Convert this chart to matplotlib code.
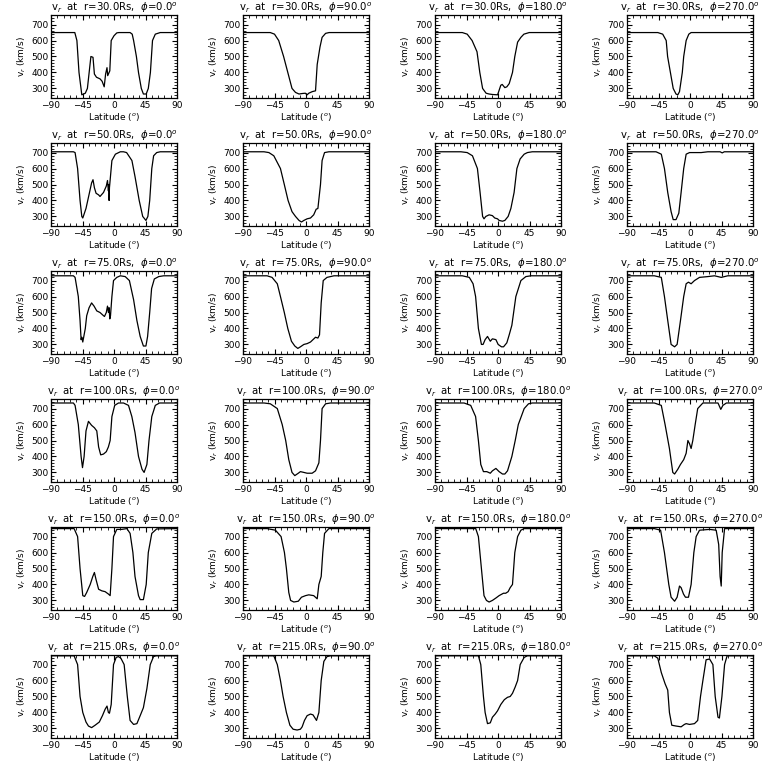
import numpy as np
import matplotlib
matplotlib.use("Agg")
import matplotlib.pyplot as plt
from matplotlib.ticker import MultipleLocator

# =========================
# DATA (lat in deg, v_r in km/s)
# =========================

radii = [30.0, 50.0, 75.0, 100.0, 150.0, 215.0]
phis = [0.0, 90.0, 180.0, 270.0]

# r = 30 Rs
lat_r30_p0 = [-90, -56, -53, -50, -46, -41, -38, -33, -30, -28, -25, -20, -17, -14, -12, -10, -9, -6, -4, 0, 4, 7, 23, 26, 28, 32, 35, 39, 42, 46, 49, 52, 55, 59, 66, 90]
vr_r30_p0 = [650, 650, 600, 400, 260, 270, 300, 500, 495, 390, 370, 360, 345, 310, 390, 430, 380, 410, 600, 630, 648, 650, 650, 640, 600, 500, 400, 300, 265, 265, 300, 400, 600, 640, 650, 650]
lat_r30_p90 = [-90, -51, -45, -39, -32, -29, -26, -20, -15, -10, -5.5, -1, 1.6, 4, 9, 13.6, 16, 20, 23, 28, 33, 90]
vr_r30_p90 = [650, 650, 640, 600, 500, 450, 400, 300, 275, 265, 268, 270, 260, 270, 280, 285, 450, 560, 620, 645, 650, 650]
lat_r30_p180 = [-90, -51, -44, -37, -30, -26, -22, -17, -12.7, -8, -0.7, 0.2, 4, 6, 9.8, 12.6, 16, 20.7, 24, 28, 32.7, 37, 44.6, 90]
vr_r30_p180 = [650, 650, 640, 600, 530, 400, 300, 270, 265, 262, 260, 270, 320, 325, 305, 310, 330, 400, 500, 590, 620, 640, 650, 650]
lat_r30_p270 = [-90, -46, -39, -34, -32, -28, -24, -20, -17.4, -15, -11, -9, -5.5, -1.7, 1.6, 90]
vr_r30_p270 = [650, 650, 640, 600, 500, 400, 300, 265, 260, 280, 400, 500, 600, 640, 650, 650]

# r = 50 Rs
lat_r50_p0 = [-90, -58, -55.6, -52, -48.5, -46, -44.6, -40, -35, -32, -30, -28, -25.6, -22, -20, -15, -11, -9.3, -8, -7.3, -7, -6.5, -3, 2, 9, 13.6, 18, 25.6, 30, 36, 41, 45.6, 48.4, 51, 54, 56.6, 61, 66, 90]
vr_r50_p0 = [705, 705, 700, 600, 400, 300, 290, 350, 450, 510, 530, 480, 445, 435, 425, 450, 490, 525, 460, 500, 400, 480, 650, 690, 705, 705, 700, 650, 550, 400, 300, 275, 300, 400, 600, 680, 700, 705, 705]
lat_r50_p90 = [-90, -60, -53, -46, -36.5, -31, -25.6, -20, -15, -10, -6.5, -3, 1.6, 6.4, 11, 14.5, 17, 20.7, 23, 26.5, 32.7, 90]
vr_r50_p90 = [705, 705, 700, 680, 600, 500, 400, 330, 300, 275, 265, 275, 285, 290, 310, 345, 350, 500, 650, 700, 705, 705]
lat_r50_p180 = [-90, -53, -44, -36.5, -29.4, -25.6, -22, -20, -17.4, -12.7, -8, -4.6, -0.7, 1.6, 6.4, 9.8, 14.5, 18.4, 23, 27, 31.6, 37.4, 42, 49, 90]
vr_r50_p180 = [705, 705, 700, 680, 600, 450, 300, 285, 300, 310, 305, 290, 285, 275, 270, 275, 300, 350, 450, 600, 660, 690, 700, 705, 705]
lat_r50_p270 = [-90, -48.5, -41, -36.5, -31.8, -27, -24, -20, -16, -12.7, -9, -5.5, -0.7, 16, 25.5, 43, 46, 49, 90]
vr_r50_p270 = [705, 705, 690, 600, 450, 330, 280, 280, 320, 450, 600, 690, 700, 700, 705, 705, 698, 705, 705]

# r = 75 Rs
lat_r75_p0 = [-90, -58, -55.6, -51, -48.5, -47, -46, -44.6, -41, -39, -35.6, -32, -28.5, -24.6, -20, -15, -13.6, -11, -9.3, -8, -7, -6, -5, -3, -0.7, 4, 9, 16, 22, 28, 32.7, 37.4, 42, 45.6, 48, 51, 53.7, 57.6, 63.8, 71, 90]
vr_r75_p0 = [730, 730, 720, 600, 450, 330, 345, 315, 400, 480, 530, 560, 540, 510, 500, 480, 475, 500, 540, 500, 530, 460, 480, 600, 700, 720, 730, 725, 700, 580, 450, 350, 290, 290, 350, 500, 650, 710, 725, 730, 730]
lat_r75_p90 = [-90, -55.6, -48.5, -41, -36.5, -31, -26, -20.8, -16, -11.7, -8, -3, 1.6, 6.4, 10, 13.6, 17, 19.3, 21.7, 24.6, 30, 40, 90]
vr_r75_p90 = [730, 730, 720, 680, 600, 500, 400, 320, 290, 275, 285, 300, 305, 315, 330, 345, 340, 360, 560, 700, 720, 730, 730]
lat_r75_p180 = [-90, -51, -41, -35.6, -32, -28, -23.7, -21.3, -18.4, -15, -11, -8, -3, 0.2, 5, 7.9, 12.6, 16, 19.8, 25.5, 32.7, 39.8, 47, 90]
vr_r75_p180 = [730, 730, 720, 680, 600, 400, 300, 300, 330, 350, 320, 335, 330, 300, 285, 285, 310, 360, 420, 600, 700, 725, 730, 730]
lat_r75_p270 = [-90, -51, -41, -36.5, -31.8, -27, -22, -18.4, -13.6, -9, -5.5, -2.2, 1.6, 6.4, 13.6, 25.5, 35, 44.6, 54, 90]
vr_r75_p270 = [730, 730, 720, 600, 450, 300, 285, 300, 450, 600, 680, 690, 680, 700, 720, 725, 730, 720, 730, 730]

# r = 100 Rs
lat_r100_p0 = [-90, -58, -55.6, -51, -47, -45, -42.7, -40, -36.5, -32, -28, -24.6, -22, -19, -15, -11, -8, -5.5, -3, 1, 6.4, 13.6, 20.7, 25.5, 30, 35, 40, 43, 47, 50, 54, 59, 65, 90]
vr_r100_p0 = [735, 735, 720, 600, 400, 330, 400, 560, 620, 595, 580, 560, 460, 410, 415, 430, 460, 500, 650, 720, 735, 735, 720, 650, 550, 400, 320, 300, 350, 500, 650, 720, 735, 735]
lat_r100_p90 = [-90, -60, -51, -41, -34, -29, -24.6, -20, -16, -11, -8, -3, 1.6, 8.8, 13.6, 18.4, 20.7, 23, 28, 35, 90]
vr_r100_p90 = [735, 735, 730, 700, 600, 500, 380, 300, 280, 295, 305, 300, 295, 295, 310, 360, 500, 700, 730, 735, 735]
lat_r100_p180 = [-90, -48.5, -39, -32, -28, -24.6, -20.8, -16, -11, -8, -3, 1.6, 6.4, 9.8, 13.6, 19.8, 24.6, 29, 37.4, 43.6, 49, 90]
vr_r100_p180 = [735, 735, 720, 650, 500, 350, 305, 305, 295, 310, 325, 305, 290, 290, 310, 400, 500, 600, 700, 730, 735, 735]
lat_r100_p270 = [-90, -51, -41, -35.6, -29.4, -24.6, -22, -17.4, -13.6, -9, -5.5, -3, -0.7, 1.6, 4, 7.4, 11, 18.4, 40, 44, 47, 52, 90]
vr_r100_p270 = [735, 735, 720, 600, 450, 300, 290, 320, 350, 380, 420, 500, 480, 450, 500, 600, 700, 735, 735, 695, 720, 735, 735]

# r = 150 Rs
lat_r150_p0 = [-90, -57, -52, -48.5, -44.6, -42, -39, -34, -30.3, -28, -25.6, -22, -17.4, -12.7, -8, -5.5, -3, -0.7, 4, 11, 18.4, 23, 27, 30, 35, 37.4, 42, 46, 49, 54, 61, 90]
vr_r150_p0 = [750, 750, 700, 500, 330, 325, 350, 400, 450, 475, 430, 370, 360, 355, 340, 330, 500, 700, 745, 745, 750, 720, 600, 450, 330, 305, 305, 400, 600, 720, 748, 750]
lat_r150_p90 = [-90, -55.6, -43.7, -35.6, -30.8, -28, -24.6, -22, -17.4, -11, -6.5, -0.7, 4, 11, 16, 18.4, 21.7, 24, 26.5, 32.7, 90]
vr_r150_p90 = [750, 750, 740, 700, 600, 500, 350, 300, 290, 295, 320, 330, 335, 330, 310, 400, 450, 600, 720, 750, 750]
lat_r150_p180 = [-90, -31.8, -28, -23.7, -20, -16.5, -12.7, -8, -3, 1.6, 7.8, 11, 14.5, 17.4, 20.7, 24, 28, 32.7, 37.4, 90]
vr_r150_p180 = [750, 750, 700, 500, 330, 300, 290, 300, 315, 330, 345, 345, 355, 380, 400, 600, 700, 740, 750, 750]
lat_r150_p270 = [-90, -51, -42, -36.5, -30.3, -27, -22, -18.4, -15, -12.7, -9.3, -6.5, -2.2, 1.6, 5.5, 8.8, 13.6, 28, 37.4, 41, 43, 44.6, 46, 49.4, 90]
vr_r150_p270 = [750, 750, 740, 600, 400, 320, 295, 320, 390, 380, 340, 320, 320, 400, 600, 700, 740, 745, 740, 650, 450, 390, 600, 750, 750]

# r = 215 Rs
lat_r215_p0 = [-90, -57, -52, -48.5, -44.6, -40, -36.5, -32, -27, -21, -16.5, -12.7, -10, -8, -6.5, -4, -0.7, 3.1, 6.4, 9.8, 14.5, 19, 23, 28, 32.7, 37.4, 42, 47, 51.8, 56.5, 60, 90]
vr_r215_p0 = [755, 755, 700, 500, 400, 340, 315, 305, 320, 340, 380, 420, 440, 400, 395, 450, 700, 745, 750, 740, 700, 500, 350, 325, 330, 380, 430, 550, 700, 750, 755, 755]
lat_r215_p90 = [-90, -46, -41, -36.5, -32.7, -28, -23, -18.4, -12.7, -8, -5.5, -2.2, 1.6, 6.4, 10, 13.6, 15, 18.4, 21.7, 25.5, 30, 35, 90]
vr_r215_p90 = [755, 755, 700, 600, 500, 400, 320, 295, 290, 295, 310, 350, 380, 390, 385, 360, 350, 400, 600, 720, 750, 755, 755]
lat_r215_p180 = [-90, -28, -24.6, -20.8, -18.4, -15, -11, -8, -4, -0.7, 4, 9, 13.6, 17.4, 20.7, 24.6, 28, 31.7, 37.4, 42, 90]
vr_r215_p180 = [755, 755, 700, 500, 400, 330, 335, 370, 390, 410, 450, 480, 495, 500, 520, 560, 600, 700, 745, 755, 755]
lat_r215_p270 = [-90, -51, -46, -41, -35.6, -31.8, -29.4, -26, -20, -12.7, -8, -5.5, -0.7, 6.4, 11, 15, 18.4, 23, 28, 32.7, 36, 40, 42, 45.6, 49.4, 53, 90]
vr_r215_p270 = [755, 755, 740, 650, 580, 540, 400, 320, 315, 310, 325, 330, 325, 330, 350, 500, 600, 730, 735, 700, 500, 370, 365, 500, 700, 755, 755]

curves = [
    [(lat_r30_p0, vr_r30_p0), (lat_r30_p90, vr_r30_p90), (lat_r30_p180, vr_r30_p180), (lat_r30_p270, vr_r30_p270)],
    [(lat_r50_p0, vr_r50_p0), (lat_r50_p90, vr_r50_p90), (lat_r50_p180, vr_r50_p180), (lat_r50_p270, vr_r50_p270)],
    [(lat_r75_p0, vr_r75_p0), (lat_r75_p90, vr_r75_p90), (lat_r75_p180, vr_r75_p180), (lat_r75_p270, vr_r75_p270)],
    [(lat_r100_p0, vr_r100_p0), (lat_r100_p90, vr_r100_p90), (lat_r100_p180, vr_r100_p180), (lat_r100_p270, vr_r100_p270)],
    [(lat_r150_p0, vr_r150_p0), (lat_r150_p90, vr_r150_p90), (lat_r150_p180, vr_r150_p180), (lat_r150_p270, vr_r150_p270)],
    [(lat_r215_p0, vr_r215_p0), (lat_r215_p90, vr_r215_p90), (lat_r215_p180, vr_r215_p180), (lat_r215_p270, vr_r215_p270)],
]

# =========================
# FIGURE
# =========================

W = 768.0
fig = plt.figure(figsize=(7.68, 7.68), dpi=100)

for i, r in enumerate(radii):
    for j, phi in enumerate(phis):
        left = (51 + 192 * j) / W
        bottom = 1 - (128 * i + 98) / W
        ax = fig.add_axes([left, bottom, 126 / W, 83 / W])

        lat, vr = curves[i][j]
        ax.plot(lat, vr, color="black", lw=0.9)

        ax.set_xlim(-90, 90)
        ax.set_ylim(240, 760)
        ax.xaxis.set_major_locator(MultipleLocator(45))
        ax.xaxis.set_minor_locator(MultipleLocator(9))
        ax.yaxis.set_minor_locator(MultipleLocator(20))
        ax.set_yticks([300, 400, 500, 600, 700])
        ax.tick_params(which="both", direction="in", top=True, right=True,
                       labelsize=6.5, pad=2)
        ax.tick_params(which="major", length=3.5, width=0.8)
        ax.tick_params(which="minor", length=2, width=0.6)
        for s in ax.spines.values():
            s.set_linewidth(0.9)

        ax.set_title(r"v$_r$  at  r=%.1fRs,  $\phi$=%.1f$^o$" % (r, phi),
                     fontsize=7.3, pad=2)
        ax.set_xlabel(r"Latitude ($^o$)", fontsize=6.5, labelpad=1)
        ax.set_ylabel(r"v$_r$ (km/s)", fontsize=6.5, labelpad=2)

plt.savefig("out.png", dpi=100)
plt.close()
